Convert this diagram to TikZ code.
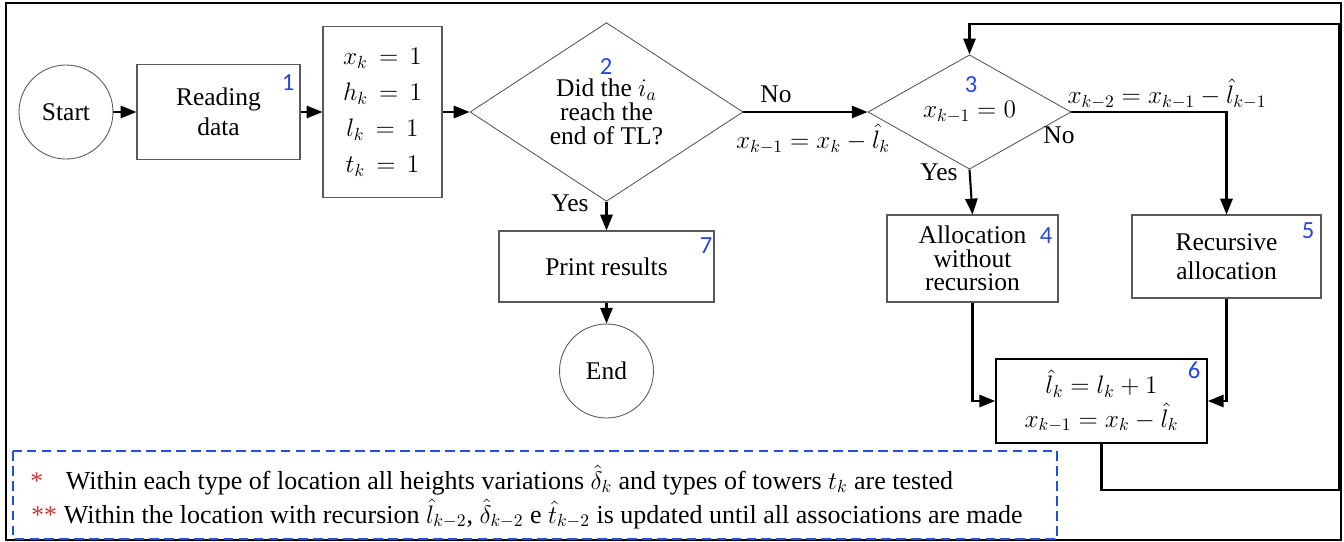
\documentclass[tikz,border=0pt]{standalone}
\usepackage{fontspec}
\setmainfont{Liberation Serif}
\newfontfamily\numfont{Carlito}
\usetikzlibrary{shapes.geometric, arrows.meta}
\definecolor{numblue}{RGB}{40,70,220}
\definecolor{noteblue}{RGB}{30,80,230}
\definecolor{starred}{RGB}{200,55,55}
\begin{document}
\begin{tikzpicture}[
            font=\fontsize{14.5}{16}\selectfont,
            terminal/.style={circle, draw=gray!70!black, line width=0.5pt, minimum size=1.88cm, inner sep=0pt},
            process/.style={rectangle, draw=gray!70!black, line width=0.6pt, align=center, inner sep=2pt},
            decision/.style={diamond, draw=gray!70!black, line width=0.5pt, align=center, inner sep=0pt},
            num/.style={text=numblue, font=\numfont\fontsize{14}{14}\selectfont, inner sep=0pt},
            flow/.style={line width=1.2pt, -{Triangle[length=9pt, width=7pt]}},
            edgelabel/.style={inner sep=0pt}
        ]
            \useasboundingbox (0,0) rectangle (26.88,-10.82);
            \draw[line width=0.9pt] (0.12,-0.06) rectangle (26.82,-10.80);

            % main row
            \node[terminal] (start) at (1.32,-2.24) {Start};
            \node[process, minimum width=3.26cm, minimum height=1.90cm, font=\fontsize{14.5}{17}\selectfont] (read) at (4.37,-2.24) {Reading\\data};
            \node[process, minimum width=2.38cm, minimum height=3.42cm, font=\fontsize{14.5}{20.5}\selectfont] (init) at (7.65,-2.24) {$x_k \,=\, 1$\\$h_k \,=\, 1$\\$l_k \,=\, 1$\\$t_k \,=\, 1$};
            \node[decision, minimum width=5.46cm, minimum height=3.08cm, font=\fontsize{14.5}{13.5}\selectfont] (dec1) at (12.13,-2.24) {Did the $i_a$\\reach the\\end of TL?};
            \node[decision, minimum width=4.06cm, minimum height=1.62cm] (dec2) at (19.39,-2.24) {$x_{k-1} = 0$};

            % lower boxes
            \node[process, minimum width=4.30cm, minimum height=1.42cm] (print) at (12.13,-5.33) {Print results};
            \node[terminal] (stop) at (12.13,-7.42) {End};
            \node[process, minimum width=3.42cm, minimum height=1.74cm, font=\fontsize{14.5}{13.5}\selectfont] (alloc) at (19.45,-5.17) {Allocation\\without\\recursion};
            \node[process, minimum width=3.78cm, minimum height=1.66cm, font=\fontsize{14.5}{16.5}\selectfont] (recur) at (24.53,-5.13) {Recursive\\allocation};
            \node[process, draw=black, line width=1pt, minimum width=4.22cm, minimum height=1.68cm, font=\fontsize{14.5}{18.8}\selectfont] (update) at (22.03,-8.02) {$\hat{l}_k = l_k + 1$\\$x_{k-1} = x_k - \hat{l}_k$};

            % step numbers
            \node[num] (n1) at (5.76,-1.66) {1};
            \node[num] (n2) at (12.12,-1.34) {2};
            \node[num] (n3) at (19.42,-1.70) {3};
            \node[num] (n4) at (20.92,-4.72) {4};
            \node[num] (n5) at (26.16,-4.62) {5};
            \node[num] (n6) at (23.88,-7.40) {6};
            \node[num] (n7) at (14.12,-4.92) {7};

            % connectors
            \draw[flow] (start) -- (read);
            \draw[flow] (read) -- (init);
            \draw[flow] (init) -- (dec1);
            \draw[flow] (dec1.east) -- (dec2.west);
            \draw[flow] (dec1.south) -- (print.north);
            \draw[flow] (print.south) -- (stop.north);
            \draw[flow] (dec2.south) -- (alloc.north);
            \draw[flow] (dec2.east) -| (recur.north);
            \draw[flow] (alloc.south) |- (update.west);
            \draw[flow] (recur.south) |- (update.east);
            \coordinate (loopbr) at (26.78,-9.80);
            \coordinate (looptr) at (26.78,-0.48);
            \draw[flow] (update.south) |- (loopbr) -- (looptr) -| (dec2.north);

            % labels
            \node[edgelabel] (no1) at (15.52,-1.88) {No};
            \node[edgelabel] (eq1) at (16.26,-2.78) {$x_{k-1} = x_k - \hat{l}_k$};
            \node[edgelabel] (yes1) at (11.40,-4.06) {Yes};
            \node[edgelabel] (eq2) at (23.34,-1.88) {$x_{k-2} = x_{k-1} - \hat{l}_{k-1}$};
            \node[edgelabel] (no2) at (21.18,-2.70) {No};
            \node[edgelabel] (yes2) at (18.78,-3.44) {Yes};

            % notes
            \draw[noteblue, line width=0.9pt, dash pattern=on 5.5pt off 3pt] (0.26,-9.02) rectangle (21.14,-10.78);
            \node[edgelabel, anchor=base west, text=starred] (s1) at (0.60,-9.78) {*};
            \node[edgelabel, anchor=base west, text=starred] (s2) at (0.62,-10.46) {**};
            \node[edgelabel, anchor=base west, font=\fontsize{14.8}{16}\selectfont] (note1) at (1.31,-9.78) {Within each type of location all heights variations $\hat{\delta}_k$ and types of towers $t_k$ are tested};
            \node[edgelabel, anchor=base west, font=\fontsize{14.8}{16}\selectfont] (note2) at (1.27,-10.46) {Within the location with recursion $\hat{l}_{k-2}$, $\hat{\delta}_{k-2}$ e $\hat{t}_{k-2}$ is updated until all associations are made};
        \end{tikzpicture}
\end{document}
